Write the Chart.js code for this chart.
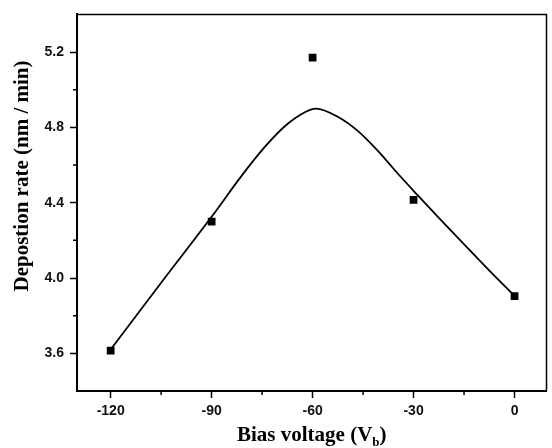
<!DOCTYPE html>
<html>
<head>
<meta charset="utf-8">
<script src="https://cdn.jsdelivr.net/npm/chart.js@4/dist/chart.umd.min.js"></script>
<style>
  html, body { margin: 0; padding: 0; background: #fff; }
  #wrap { width: 552px; height: 448px; }
</style>
</head>
<body>
<div id="wrap"><canvas id="rateChart" width="552" height="448"></canvas></div>
<script>
// measured points
const biasVoltage = [-120, -90, -60, -30, 0];
const depositionRate = [3.614, 4.299, 5.170, 4.415, 3.904];

// fitted curve
const fitVoltage = [-120, -105, -90, -81, -74, -68, -62, -59, -52.4, -46.5, -40.6, -34.7, -28.8, -22.9, -17.1, -8.2, 0];
const fitRate = [3.62, 3.975, 4.325, 4.545, 4.70, 4.81, 4.883, 4.90, 4.855, 4.78, 4.675, 4.555, 4.44, 4.327, 4.218, 4.053, 3.905];

// axis ticks
const xTicks = [-120, -90, -60, -30, 0];
const xMinor = [-105, -75, -45, -15];
const yTicks = [3.6, 4.0, 4.4, 4.8, 5.2];
const yMinor = [3.8, 4.2, 4.6, 5.0];

const xTitle = ["Bias voltage (V", "b", ")"];
const yTitle = "Depostion rate (nm / min)";

const tickFont = { family: "'Liberation Sans', Arial, sans-serif", size: 14, weight: "bold" };
const titleFamily = "'Liberation Serif', 'Times New Roman', serif";

// draws minor ticks, frame and the axis titles
const extrasPlugin = {
    id: "extras",
    afterDraw(chart) {
        const ctx = chart.ctx;
        const area = chart.chartArea;
        const xs = chart.scales.x;
        const ys = chart.scales.y;
        ctx.save();
        ctx.strokeStyle = "#000";
        ctx.lineWidth = 1.5;
        ctx.beginPath();
        xMinor.forEach(v => {
            const px = xs.getPixelForValue(v);
            ctx.moveTo(px, area.bottom);
            ctx.lineTo(px, area.bottom + 4);
        });
        yMinor.forEach(v => {
            const py = ys.getPixelForValue(v);
            ctx.moveTo(area.left, py);
            ctx.lineTo(area.left - 4, py);
        });
        ctx.stroke();

        // top and right frame
        ctx.beginPath();
        ctx.moveTo(area.left, area.top);
        ctx.lineTo(area.right, area.top);
        ctx.lineTo(area.right, area.bottom);
        ctx.stroke();

        // x title with subscript
        ctx.fillStyle = "#000";
        ctx.textBaseline = "alphabetic";
        const big = "bold 21px " + titleFamily;
        const small = "bold 13px " + titleFamily;
        ctx.font = big;
        const w1 = ctx.measureText(xTitle[0]).width;
        const w3 = ctx.measureText(xTitle[2]).width;
        ctx.font = small;
        const w2 = ctx.measureText(xTitle[1]).width;
        const cx = (area.left + area.right) / 2;
        let x0 = cx - (w1 + w2 + w3) / 2;
        const base = 441;
        ctx.textAlign = "left";
        ctx.font = big;
        ctx.fillText(xTitle[0], x0, base);
        ctx.font = small;
        ctx.fillText(xTitle[1], x0 + w1, base + 5);
        ctx.font = big;
        ctx.fillText(xTitle[2], x0 + w1 + w2, base);

        // y title
        ctx.translate(28, 176);
        ctx.rotate(-Math.PI / 2);
        ctx.textAlign = "center";
        ctx.font = big;
        ctx.fillText(yTitle, 0, 0);
        ctx.restore();
    }
};

const ctx = document.getElementById("rateChart").getContext("2d");
const rateChart = new Chart(ctx, {
    type: "scatter",
    data: {
        datasets: [{
            label: "Fit",
            data: fitVoltage.map((v, i) => ({ x: v, y: fitRate[i] })),
            showLine: true,
            borderColor: "#000",
            borderWidth: 1.8,
            pointRadius: 0,
            tension: 0.4,
            cubicInterpolationMode: "monotone",
        }, {
            label: "Measured",
            data: biasVoltage.map((v, i) => ({ x: v, y: depositionRate[i] })),
            showLine: false,
            pointStyle: "rect",
            pointRadius: 5.5,
            backgroundColor: "#000",
            borderColor: "#000",
            borderWidth: 0,
        }],
    },
    options: {
        responsive: false,
        animation: false,
        layout: { padding: { top: 10, right: 2, left: 0, bottom: 0 } },
        plugins: {
            legend: { display: false },
            tooltip: { enabled: false },
        },
        scales: {
            x: {
                type: "linear",
                min: -130,
                max: 9.5,
                afterBuildTicks: scale => { scale.ticks = xTicks.map(v => ({ value: v })); },
                afterFit: scale => { scale.height = 57; },
                ticks: {
                    color: "#111",
                    font: tickFont,
                    padding: 5,
                    maxRotation: 0,
                    callback: v => String(v),
                },
                grid: { drawOnChartArea: false, color: "#000", tickLength: 7, tickWidth: 1.5 },
                border: { color: "#000", width: 2 },
            },
            y: {
                type: "linear",
                min: 3.4,
                max: 5.4,
                afterBuildTicks: scale => { scale.ticks = yTicks.map(v => ({ value: v })); },
                afterFit: scale => { scale.width = 77; },
                ticks: {
                    color: "#111",
                    font: tickFont,
                    padding: 6,
                    callback: v => v.toFixed(1),
                },
                grid: { drawOnChartArea: false, color: "#000", tickLength: 7, tickWidth: 1.5 },
                border: { color: "#000", width: 2 },
            },
        },
    },
    plugins: [extrasPlugin],
});
</script>
</body>
</html>
